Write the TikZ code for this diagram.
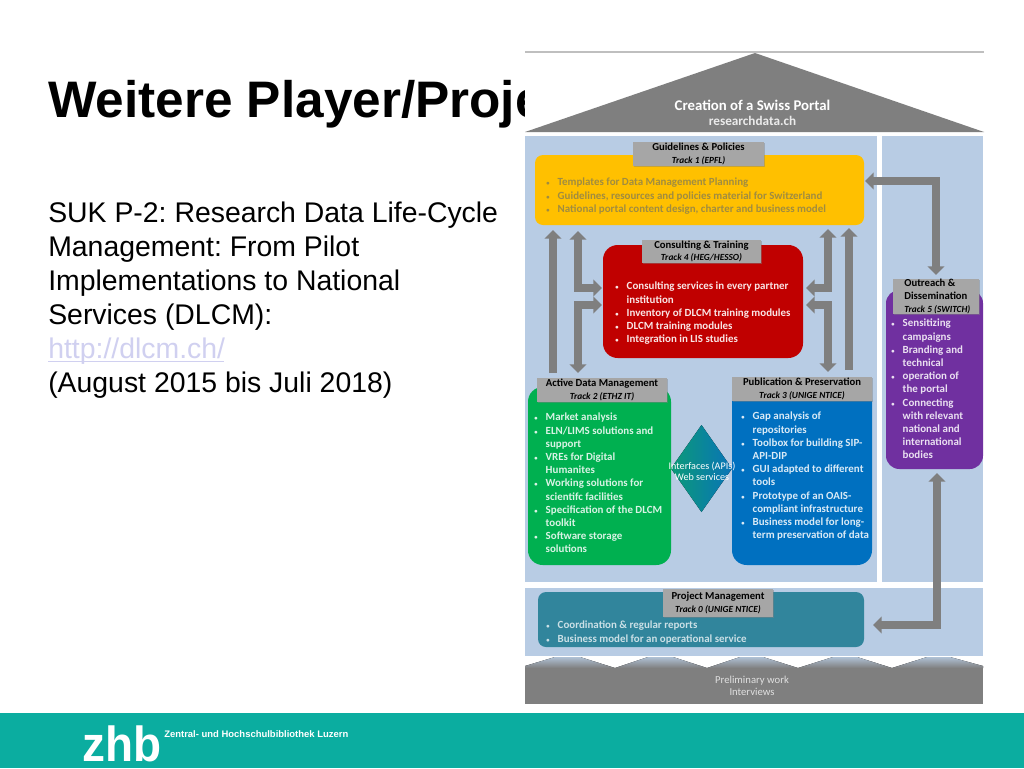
\documentclass[tikz,border=0pt]{standalone}
\usepackage{fontspec}
\setmainfont{Liberation Sans}
\newfontfamily\calf{Carlito}
\usetikzlibrary{arrows.meta,shadows}
\definecolor{panelc}{HTML}{B8CCE4}
\definecolor{greyc}{HTML}{7F7F7F}
\definecolor{labelc}{HTML}{A6A6A6}
\definecolor{yellowc}{HTML}{FFC000}
\definecolor{redc}{HTML}{C00000}
\definecolor{greenc}{HTML}{00B050}
\definecolor{bluec}{HTML}{0070C0}
\definecolor{purplec}{HTML}{7030A0}
\definecolor{tealc}{HTML}{31859C}
\definecolor{footc}{HTML}{0BADA0}
\definecolor{linkc}{HTML}{D0D0F0}
\definecolor{yelltext}{HTML}{A08C40}
\definecolor{dleft}{HTML}{0B9A78}
\definecolor{dright}{HTML}{0A74B8}
\newlength{\bw}
\setlength{\bw}{8.6pt}
\newcommand{\bi}[1]{\makebox[\bw][l]{\scalebox{.6}{\textbullet}}#1}
\newcommand{\ci}[1]{\hspace*{\bw}#1}
\newcommand{\lab}[2]{{\fontsize{8}{9}\selectfont #1}\\{\fontsize{7}{9}\selectfont\itshape #2}}
\frenchspacing
\tikzset{
  x=0.75pt,y=-0.75pt,
  wh/.style 2 args={minimum width=#1*0.75pt,minimum height=#2*0.75pt,inner sep=0pt,outer sep=0pt},
  panelbox/.style={fill=panelc},
  roundbox/.style={rounded corners=#1},
  labelbox/.style={fill=labelc,font=\calf\bfseries\fontsize{8}{9.2}\selectfont,align=center,text=black,
    drop shadow={shadow xshift=0.8pt,shadow yshift=-0.8pt,opacity=.45}},
  listtext/.style={anchor=north west,inner sep=0pt,align=left,font=\calf\bfseries\fontsize{8.2}{9.9}\selectfont},
  link/.style={draw=greyc,line width=6pt,line join=miter},
  both/.style={link,{Triangle[width=12.5pt,length=6.5pt]}-{Triangle[width=12.5pt,length=6.5pt]}},
  upar/.style={link,-{Triangle[width=12.5pt,length=6.5pt]}},
  plain/.style={anchor=base west,inner sep=0pt},
  body/.style={plain,font=\fontsize{21.3}{25.5}\selectfont},
}
\begin{document}
\begin{tikzpicture}
\useasboundingbox (0,0) rectangle (1024,768);
\fill[white] (0,0) rectangle (1024,768);
% footer
\node[wh={1024}{55},fill=footc] (foot) at (512,740.5) {};
\node[plain,text=white,font=\bfseries\fontsize{37}{38}\selectfont] (zhb) at (82,761) {\scalebox{.93}[1]{zhb}};
\node[plain,text=white,font=\bfseries\fontsize{7.1}{9}\selectfont] (zhbt) at (164,737) {Zentral- und Hochschulbibliothek Luzern};
% left text
\node[plain,font=\bfseries\fontsize{38.5}{40}\selectfont] (title) at (48,117) {Weitere Player/Proje};
\node[body] (l1) at (48,222) {SUK P-2: Research Data Life-Cycle};
\node[body] (l2) at (48,256) {Management: From Pilot};
\node[body] (l3) at (48,290) {Implementations to National};
\node[body] (l4) at (48,324) {Services (DLCM):};
\node[body,text=linkc] (l5) at (48,358) {http://dlcm.ch/};
\coordinate (u1) at (48,361.5);
\coordinate (u2) at (224,361.5);
\draw[linkc,line width=1pt] (u1) -- (u2);
\node[body] (l6) at (48,392) {(August 2015 bis Juli 2018)};
% roof
\fill[white] (525,50) rectangle (984,136);
\draw[black!25,line width=1.5pt] (525,52) -- (984,52);
\coordinate (ra) at (755,53);
\coordinate (rl) at (525,132);
\coordinate (rr) at (984,132);
\fill[greyc] (ra) -- (rr) -- (rl) -- cycle;
\node[font=\calf\bfseries\fontsize{11.1}{12}\selectfont,text=white] (rt1) at (752.5,105) {Creation of a Swiss Portal};
\node[font=\calf\bfseries\fontsize{9.9}{11}\selectfont,text=white!92!black] (rt2) at (752.5,121) {researchdata.ch};
% panels
\node[panelbox,wh={352}{446}] (pmain) at (701,359) {};
\node[panelbox,wh={101}{446}] (pright) at (932.5,359) {};
\node[panelbox,wh={458}{68}] (pbot) at (754,622) {};
% foundation
\fill[top color=panelc!85!greyc,bottom color=greyc]
 (525,668) -- (525,666) -- (555,657) -- (580,657) -- (615,668) -- (648,657) -- (673,657) -- (707,668) -- (740,657) -- (763,657) -- (798,668) -- (833,657) -- (857,657) -- (892,668) -- (927,657) -- (950,657) -- (983,666) -- (983,668) -- cycle;
\fill[greyc] (525,668) rectangle (983,704);
\node[font=\calf\fontsize{8}{9}\selectfont,text=white!88!black,align=center] (prelim) at (752,686) {Preliminary work\\Interviews};
% boxes
\node[fill=yellowc,roundbox=6pt,wh={329}{70}] (yb) at (699.5,190) {};
\node[fill=redc,roundbox=11pt,wh={200}{113}] (rb) at (703,301.5) {};
\node[fill=greenc,roundbox=11pt,wh={143}{178}] (gb) at (599.5,476) {};
\node[fill=bluec,roundbox=11pt,wh={140}{180}] (bb) at (802,475) {};
\node[fill=purplec,roundbox=10pt,wh={97}{179}] (pb) at (934.5,379.5) {};
\node[fill=tealc,roundbox=6pt,wh={326}{55}] (tb) at (701,619.5) {};
% diamond
\coordinate (dl) at (671,468.5);
\coordinate (dt) at (701.5,425);
\coordinate (dr) at (732,468.5);
\coordinate (db) at (701.5,512);
\fill[left color=dleft,right color=dright] (dl) -- (dt) -- (dr) -- (db) -- cycle;
\node[font=\calf\fontsize{7.6}{8.25}\selectfont,text=white,align=center] (dtext) at (702,471.5) {Interfaces (APIs)\\Web services};
% arrows
\coordinate (a1s) at (553,373); \coordinate (a1e) at (553,230);
\draw[upar] (a1s) -- (a1e);
\coordinate (a2s) at (578,231); \coordinate (a2m) at (578,288); \coordinate (a2e) at (602,288);
\draw[both] (a2s) -- (a2m) -- (a2e);
\coordinate (a3s) at (602,305); \coordinate (a3m) at (578,305); \coordinate (a3e) at (578,373);
\draw[both] (a3s) -- (a3m) -- (a3e);
\coordinate (a4s) at (828,229); \coordinate (a4m) at (828,288); \coordinate (a4e) at (806,288);
\draw[both] (a4s) -- (a4m) -- (a4e);
\coordinate (a5s) at (806,305); \coordinate (a5m) at (828,305); \coordinate (a5e) at (828,372);
\draw[both] (a5s) -- (a5m) -- (a5e);
\coordinate (a6s) at (849,370); \coordinate (a6e) at (849,228);
\draw[upar] (a6s) -- (a6e);
\coordinate (a7s) at (865,181); \coordinate (a7m) at (936,181); \coordinate (a7e) at (936,275);
\draw[both] (a7s) -- (a7m) -- (a7e);
\coordinate (a8s) at (937,473); \coordinate (a8m) at (937,625); \coordinate (a8e) at (873,625);
\draw[both] (a8s) -- (a8m) -- (a8e);
% labels
\node[labelbox,wh={131}{24}] (yl) at (698.5,154) {\lab{Guidelines \& Policies}{Track 1 (EPFL)}};
\node[labelbox,wh={119}{23}] (rl2) at (701.5,251.5) {\lab{Consulting \& Training}{Track 4 (HEG/HESSO)}};
\node[labelbox,wh={130}{24}] (gl) at (602,390) {\lab{Active Data Management}{Track 2 (ETHZ IT)}};
\node[labelbox,wh={140}{24}] (bl) at (802,389) {\lab{Publication \& Preservation}{Track 3 (UNIGE NTICE)}};
\node[labelbox,wh={86}{35},align=left,font=\calf\bfseries\fontsize{8}{9.75}\selectfont] (pl) at (936,296.5) {{\hspace*{2pt}Outreach \&}\\{\hspace*{2pt}Dissemination}\\{\fontsize{7}{9}\selectfont\itshape\hspace*{2pt}Track 5 (SWITCH)}};
\node[labelbox,wh={110}{28}] (tl) at (718,603) {\lab{Project Management}{Track 0 (UNIGE NTICE)}};
% lists
\node[listtext,text=yelltext] (yt) at (546,178) {\bi{Templates for Data Management Planning}\\\bi{Guidelines, resources and policies material for Switzerland}\\\bi{National portal content design, charter and business model}};
\node[listtext,text=white!90!redc] (rt) at (615,282) {\bi{Consulting services in every partner}\\\ci{institution}\\\bi{Inventory of DLCM training modules}\\\bi{DLCM training modules}\\\bi{Integration in LIS studies}};
\node[listtext,text=white!85!greenc] (gt) at (534,413) {\bi{Market analysis}\\\bi{ELN/LIMS solutions and}\\\ci{support}\\\bi{VREs for Digital}\\\ci{Humanites}\\\bi{Working solutions for}\\\ci{scientifc facilities}\\\bi{Specification of the DLCM}\\\ci{toolkit}\\\bi{Software storage}\\\ci{solutions}};
\node[listtext,text=white!85!bluec] (bt) at (741,412) {\bi{Gap analysis of}\\\ci{repositories}\\\bi{Toolbox for building SIP-}\\\ci{API-DIP}\\\bi{GUI adapted to different}\\\ci{tools}\\\bi{Prototype of an OAIS-}\\\ci{compliant infrastructure}\\\bi{Business model for long-}\\\ci{term preservation of data}};
\node[listtext,text=white!85!purplec] (pt) at (891,319) {\bi{Sensitizing}\\\ci{campaigns}\\\bi{Branding and}\\\ci{technical}\\\bi{operation of}\\\ci{the portal}\\\bi{Connecting}\\\ci{with relevant}\\\ci{national and}\\\ci{international}\\\ci{bodies}};
\node[listtext,text=white!75!tealc] (tt) at (546,621) {\bi{Coordination \& regular reports}\\\bi{Business model for an operational service}};
\end{tikzpicture}
\end{document}
